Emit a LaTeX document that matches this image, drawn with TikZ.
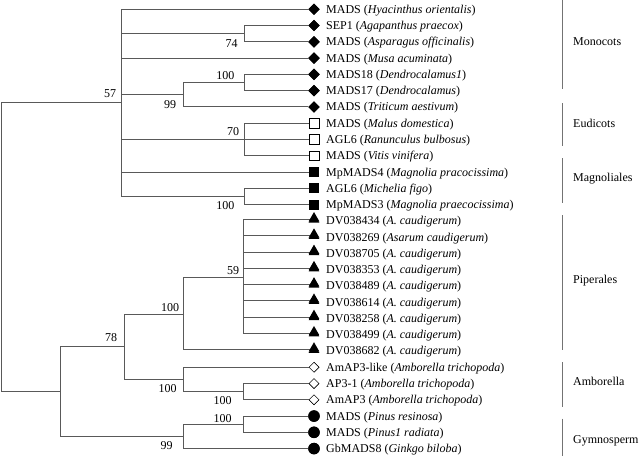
\documentclass[tikz,border=0pt]{standalone}
\usepackage{fontspec}
\setmainfont{Liberation Serif}
\usetikzlibrary{shapes.geometric}
\tikzset{
  br/.style={draw=black!65, line width=0.9pt},
  bar/.style={draw=black!55, line width=0.9pt},
  txt/.style={font=\fontsize{12}{14}\selectfont, inner sep=0pt, anchor=base west},
  bs/.style={font=\fontsize{12}{14}\selectfont, inner sep=0pt},
  grp/.style={font=\fontsize{12}{14}\selectfont, inner sep=0pt, anchor=west},
  fdia/.style={diamond, fill=black, minimum width=11.5pt, minimum height=11.5pt, inner sep=0pt},
  odia/.style={diamond, draw=black, line width=0.5pt, fill=white, minimum width=10pt, minimum height=10pt, inner sep=0pt},
  osq/.style={rectangle, draw=black, line width=0.5pt, fill=white, minimum size=9.5pt, inner sep=0pt},
  fsq/.style={rectangle, fill=black, minimum size=10pt, inner sep=0pt},
  tri/.style={regular polygon, regular polygon sides=3, fill=black, minimum size=12.3pt, inner sep=0pt, yshift=1.3pt},
  fcir/.style={circle, fill=black, minimum size=11.5pt, inner sep=0pt},
}
\begin{document}
\begin{tikzpicture}[x=1pt, y=-1pt]
\useasboundingbox (0,0) rectangle (640,456);
% internal nodes
\coordinate (root) at (1.5,247.25);
\coordinate (n57) at (121.7,102.85);
\coordinate (n74) at (244,33.7);
\coordinate (n99a) at (183.3,94.7);
\coordinate (n100a) at (244,82.55);
\coordinate (n70) at (244,139.5);
\coordinate (n100b) at (244,196.4);
\coordinate (nB) at (60.7,391.65);
\coordinate (n78) at (124,346.9);
\coordinate (n100c) at (183.3,314.4);
\coordinate (n59) at (243.3,277.75);
\coordinate (n100e) at (183.3,379.4);
\coordinate (n100d) at (243.3,391.65);
\coordinate (n99b) at (183.3,436.4);
\coordinate (n100f) at (243.3,424.2);
% leaves
\foreach \i/\sym/\lab in {
  0/fdia/{MADS (\textit{Hyacinthus orientalis})},
  1/fdia/{SEP1 (\textit{Agapanthus praecox})},
  2/fdia/{MADS (\textit{Asparagus officinalis})},
  3/fdia/{MADS (\textit{Musa acuminata})},
  4/fdia/{MADS18 (\textit{Dendrocalamus1})},
  5/fdia/{MADS17 (\textit{Dendrocalamus})},
  6/fdia/{MADS (\textit{Triticum aestivum})},
  7/osq/{MADS (\textit{Malus domestica})},
  8/osq/{AGL6 (\textit{Ranunculus bulbosus})},
  9/osq/{MADS (\textit{Vitis vinifera})},
  10/fsq/{MpMADS4 (\textit{Magnolia pracocissima})},
  11/fsq/{AGL6 (\textit{Michelia figo})},
  12/fsq/{MpMADS3 (\textit{Magnolia praecocissima})},
  13/tri/{DV038434 (\textit{A. caudigerum})},
  14/tri/{DV038269 (\textit{Asarum caudigerum})},
  15/tri/{DV038705 (\textit{A. caudigerum})},
  16/tri/{DV038353 (\textit{A. caudigerum})},
  17/tri/{DV038489 (\textit{A. caudigerum})},
  18/tri/{DV038614 (\textit{A. caudigerum})},
  19/tri/{DV038258 (\textit{A. caudigerum})},
  20/tri/{DV038499 (\textit{A. caudigerum})},
  21/tri/{DV038682 (\textit{A. caudigerum})},
  22/odia/{AmAP3-like (\textit{Amborella trichopoda})},
  23/odia/{AP3-1 (\textit{Amborella trichopoda})},
  24/odia/{AmAP3 (\textit{Amborella trichopoda})},
  25/fcir/{MADS (\textit{Pinus resinosa})},
  26/fcir/{MADS (\textit{Pinus1 radiata})},
  27/fcir/{GbMADS8 (\textit{Ginkgo biloba})}} {
  \node[\sym] (s\i) at (314,{9.3+16.27*\i}) {};
  \node[txt] (t\i) at (326,{9.3+16.27*\i+4}) {\lab};
}
% branches
\draw[br] (root) |- (n57);
\draw[br] (root) |- (nB);
\draw[br] (n57) |- (s0);
\draw[br] (n57) |- (n74);
\draw[br] (n57) |- (s3);
\draw[br] (n57) |- (n99a);
\draw[br] (n57) |- (n70);
\draw[br] (n57) |- (s10);
\draw[br] (n57) |- (n100b);
\draw[br] (n74) |- (s1);
\draw[br] (n74) |- (s2);
\draw[br] (n99a) |- (n100a);
\draw[br] (n99a) |- (s6);
\draw[br] (n100a) |- (s4);
\draw[br] (n100a) |- (s5);
\draw[br] (n70) |- (s7);
\draw[br] (n70) |- (s8);
\draw[br] (n70) |- (s9);
\draw[br] (n100b) |- (s11);
\draw[br] (n100b) |- (s12);
\draw[br] (nB) |- (n78);
\draw[br] (nB) |- (n99b);
\draw[br] (n78) |- (n100c);
\draw[br] (n78) |- (n100e);
\draw[br] (n100c) |- (n59);
\draw[br] (n100c) |- (s21);
\foreach \j in {13,...,20} { \draw[br] (n59) |- (s\j); }
\draw[br] (n100e) |- (s22);
\draw[br] (n100e) |- (n100d);
\draw[br] (n100d) |- (s23);
\draw[br] (n100d) |- (s24);
\draw[br] (n99b) |- (n100f);
\draw[br] (n99b) |- (s27);
\draw[br] (n100f) |- (s25);
\draw[br] (n100f) |- (s26);
% redraw symbols on top
\foreach \i/\sym in {0/fdia,1/fdia,2/fdia,3/fdia,4/fdia,5/fdia,6/fdia,7/osq,8/osq,9/osq,10/fsq,11/fsq,12/fsq,13/tri,14/tri,15/tri,16/tri,17/tri,18/tri,19/tri,20/tri,21/tri,22/odia,23/odia,24/odia,25/fcir,26/fcir,27/fcir} {
  \node[\sym] at (s\i) {};
}
% bootstrap values
\node[bs] (b57) at (110,94) {57};
\node[bs] (b74) at (231.7,43.5) {74};
\node[bs] (b100a) at (225.3,76) {100};
\node[bs] (b99a) at (170,105) {99};
\node[bs] (b70) at (233,131.7) {70};
\node[bs] (b100b) at (225.3,205.7) {100};
\node[bs] (b59) at (233,270.7) {59};
\node[bs] (b100c) at (170,307.7) {100};
\node[bs] (b78) at (111,337.3) {78};
\node[bs] (b100e) at (167.7,388.3) {100};
\node[bs] (b100d) at (222.7,400.3) {100};
\node[bs] (b100f) at (222.7,418.3) {100};
\node[bs] (b99b) at (166.7,445.7) {99};
% group bars
\draw[bar] (562.7,0) -- (562.7,89.3);
\draw[bar] (562.7,103.3) -- (562.7,145.7);
\draw[bar] (562.7,158.3) -- (562.7,203.3);
\draw[bar] (562.7,215) -- (562.7,350);
\draw[bar] (562.7,362) -- (562.7,406.7);
\draw[bar] (562.7,418.7) -- (562.7,456);
\node[grp] (gMono) at (573,42) {Monocots};
\node[grp] (gEud) at (573,123) {Eudicots};
\node[grp] (gMag) at (573,179) {Magnoliales};
\node[grp] (gPip) at (573,281) {Piperales};
\node[grp] (gAmb) at (573,381.5) {Amborella};
\node[grp] (gGym) at (573,441) {Gymnosperm};
\end{tikzpicture}
\end{document}
